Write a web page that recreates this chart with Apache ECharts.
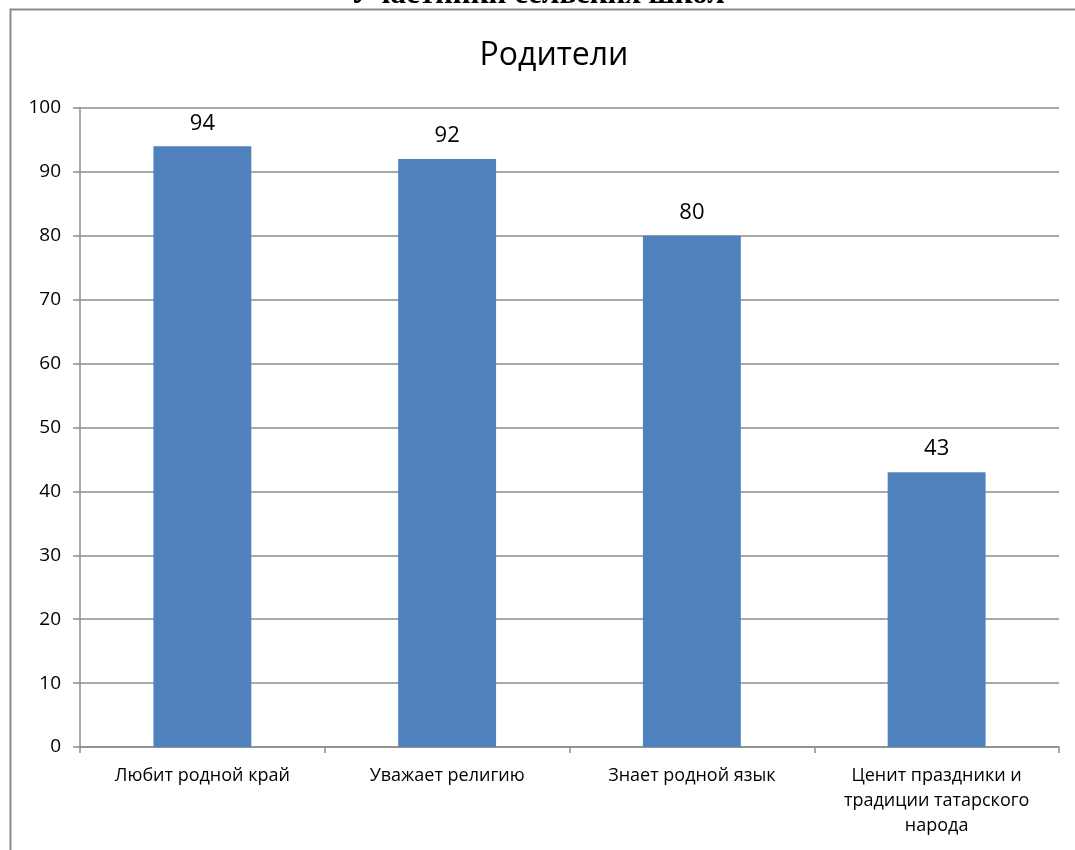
<!DOCTYPE html>
<html>
<head>
<meta charset="utf-8">
<script src="https://cdn.jsdelivr.net/npm/echarts@6/dist/echarts.min.js"></script>
<style>
  html, body { margin: 0; padding: 0; background: #fff; }
  #chart { width: 1075px; height: 850px; }
</style>
</head>
<body>
<div id="chart"></div>
<script>
// Survey of parents: share of answers per statement, %
const categories = [
  'Любит родной край',
  'Уважает религию',
  'Знает родной язык',
  'Ценит праздники и\nтрадиции татарского\nнарода'
];
const values = [94, 92, 80, 43];
const yTicks = { min: 0, max: 100, interval: 10 };

const chart = echarts.init(document.getElementById('chart'), null, { renderer: 'canvas' });
const font = '"Open Sans", "Noto Sans", sans-serif';

chart.setOption({
  backgroundColor: '#fff',
  animation: false,
  title: {
    text: 'Родители',
    left: 549,
    top: 35,
    textAlign: 'center',
    textStyle: { fontFamily: font, fontSize: 32, fontWeight: 'normal', color: '#000' }
  },
  graphic: [
    {
      type: 'rect',
      shape: { x: 10.5, y: 9.5, width: 1100, height: 900 },
      style: { fill: 'none', stroke: '#8c8c8c', lineWidth: 2 },
      silent: true
    },
    {
      type: 'text',
      left: 'center',
      top: -21,
      style: {
        text: 'Участники сельских школ',
        font: 'bold 31px "Liberation Serif", serif',
        fill: '#000'
      },
      silent: true
    }
  ],
  grid: { left: 80, right: 16, top: 108, bottom: 103, containLabel: false },
  xAxis: {
    type: 'category',
    data: categories,
    axisLine: { lineStyle: { color: '#8c8c8c', width: 1.5 } },
    axisTick: { show: true, length: 6, lineStyle: { color: '#8c8c8c', width: 1.5 } },
    axisLabel: {
      color: '#000', fontFamily: font, fontSize: 18, lineHeight: 25, margin: 16,
      interval: 0, align: 'center'
    }
  },
  yAxis: {
    type: 'value',
    min: yTicks.min,
    max: yTicks.max,
    interval: yTicks.interval,
    axisLine: { show: true, lineStyle: { color: '#8c8c8c', width: 1.5 } },
    axisTick: { show: true, length: 7, lineStyle: { color: '#8c8c8c', width: 1.5 } },
    splitLine: { lineStyle: { color: '#8c8c8c', width: 1.5 } },
    axisLabel: { color: '#000', fontFamily: font, fontSize: 19, margin: 19 }
  },
  series: [{
    type: 'bar',
    data: values,
    barWidth: '40%',
    itemStyle: { color: '#4f81bd' },
    label: {
      show: true,
      position: 'top',
      distance: 12,
      color: '#000',
      fontFamily: font,
      fontSize: 22
    }
  }]
});
</script>
</body>
</html>
